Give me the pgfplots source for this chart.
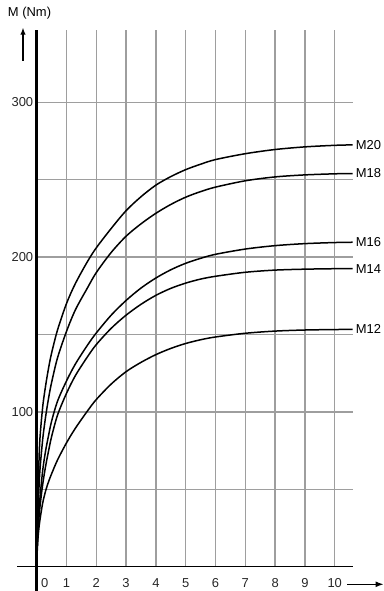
\documentclass[border=0pt]{standalone}
\usepackage{fontspec}
\setmainfont{Liberation Sans}
\usepackage{pgfplots}
\pgfplotsset{compat=1.18}
\usetikzlibrary{arrows.meta}
\definecolor{gridc}{RGB}{158,158,158}
\pgfplotstableread{
t m20 m18 m16 m14 m12
0 0 0 0 0 0
0.02 30 22 15 14 11
0.05 50 38 27 25 20
0.1 80 60 42 37 29
0.2 103 82 62 53 41
0.3 117 97 75 65 49
0.4 128.5 109 85 75 55
0.5 138 119 94 84 60
0.7 153 135 107 98 69
1 170 152 120 112 80
1.3 183 166 131 123.5 89.5
1.7 197 180 143 135.5 100.5
2 206 190 151 143.5 108
2.5 218.5 203 162.5 154 118
3 230 213.5 172 162.5 126
3.5 239 221.5 180 169.5 132
4 246.5 228.3 186.5 175.3 137
4.5 252 234 191.8 179.8 141
5 256.5 238.7 196 183.2 144.2
5.5 260 242.3 199.2 185.8 146.6
6 263 245.2 201.8 187.6 148.4
7 266.8 249.3 205.2 190.2 150.8
8 269.5 251.8 207.4 191.6 152.2
9 271.2 253.1 208.7 192.2 152.9
10 272.2 253.8 209.4 192.5 153.2
10.6 272.5 254 209.6 192.6 153.3
}\data
\begin{document}
\begin{tikzpicture}
\begin{axis}[
  at={(0,0)}, anchor=origin,
  x=29.8bp, y=1.548bp,
  xmin=-0.66, xmax=10.62, ymin=-15.5, ymax=347,
  axis x line=middle, axis y line=middle,
  axis line style={-},
  x axis line style={line width=1.6bp},
  y axis line style={line width=2.6bp},
  axis on top=true,
  clip=false,
  major tick length=0pt,
  xtick={1,...,10},
  extra x ticks={0},
  extra x tick style={xticklabel style={xshift=8bp}},
  ytick={100,200,300},
  /pgf/number format/assume math mode=true,
  tick label style={font=\fontsize{13}{15}\selectfont, text=black!85},
  xticklabel style={yshift=-8bp},
]
\pgfplotsinvokeforeach{1,...,10}{\draw[gridc, line width=1.4bp] (axis cs:#1,0) -- (axis cs:#1,347);}
\pgfplotsinvokeforeach{50,100,...,300}{\draw[gridc, line width=1.4bp] (axis cs:0,#1) -- (axis cs:10.62,#1);}
\addplot[black, line width=1.5bp, smooth] table[x=t, y=m20] {\data} node[pos=1, right, inner sep=2.5bp, font=\fontsize{13}{15}\selectfont] {M20};
\addplot[black, line width=1.5bp, smooth] table[x=t, y=m18] {\data} node[pos=1, right, inner sep=2.5bp, font=\fontsize{13}{15}\selectfont] {M18};
\addplot[black, line width=1.5bp, smooth] table[x=t, y=m16] {\data} node[pos=1, right, inner sep=2.5bp, font=\fontsize{13}{15}\selectfont] {M16};
\addplot[black, line width=1.5bp, smooth] table[x=t, y=m14] {\data} node[pos=1, right, inner sep=2.5bp, font=\fontsize{13}{15}\selectfont] {M14};
\addplot[black, line width=1.5bp, smooth] table[x=t, y=m12] {\data} node[pos=1, right, inner sep=2.5bp, font=\fontsize{13}{15}\selectfont] {M12};
\end{axis}
\node[font=\fontsize{13}{15}\selectfont] at (-7.2bp,553.7bp) {M (Nm)};
\draw[line width=1.2bp, -{Latex[length=7bp,width=5.5bp]}] (-13.7bp,506bp) -- (-13.7bp,539bp);
\draw[line width=1.2bp, -{Latex[length=8bp,width=6bp]}] (310.3bp,-17.6bp) -- (346.8bp,-17.6bp);
\pgfresetboundingbox
\path[use as bounding box] (-36.7bp,-24.3bp) rectangle (347.3bp,566.7bp);
\end{tikzpicture}
\end{document}
